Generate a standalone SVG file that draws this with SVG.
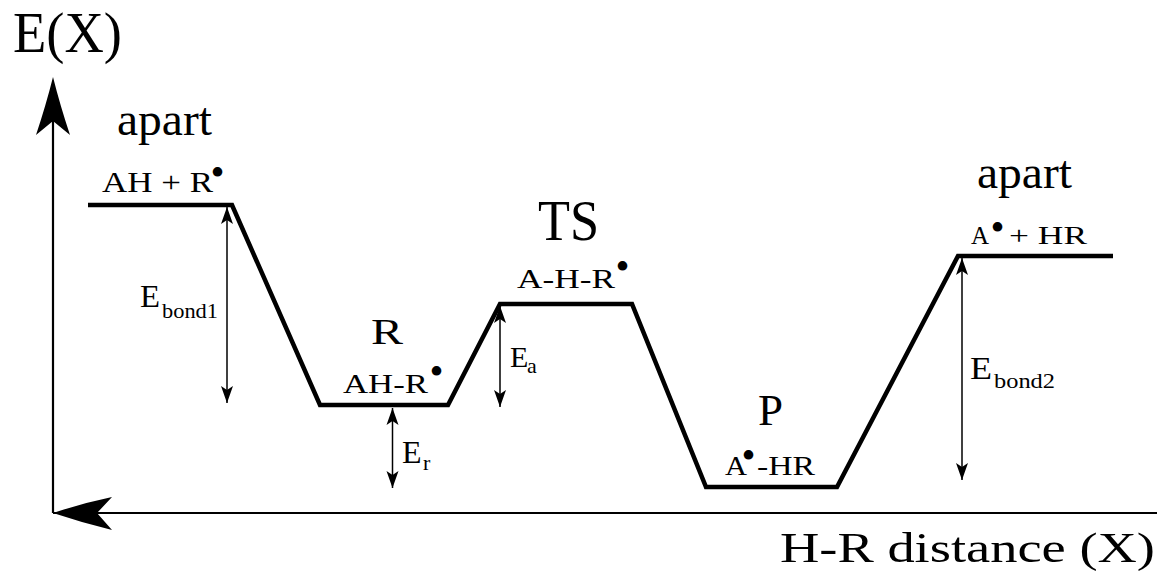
<svg xmlns="http://www.w3.org/2000/svg" width="1157" height="581" viewBox="0 0 1157 581">
<style>
text{font-family:"Liberation Serif","Times New Roman","DejaVu Serif",serif;fill:#000}
.axis{stroke:#000;stroke-width:2.2;fill:none}
.curve{stroke:#000;stroke-width:4.5;fill:none;stroke-linejoin:miter}
.dim{stroke:#000;stroke-width:1.5;fill:none;marker-start:url(#ah);marker-end:url(#ah)}
.head{fill:#000;stroke:none}
.dot{font-size:40px}
</style>
<defs>
<marker id="ah" markerUnits="userSpaceOnUse" viewBox="-18 -7 19 14" refX="0" refY="0" markerWidth="19" markerHeight="14" orient="auto-start-reverse">
<path d="M0,0 L-17,-6 L-13,0 L-17,6 Z" fill="#000"/>
</marker>
</defs>
<g id="axes">
<line class="axis" x1="53" y1="513" x2="53" y2="118"/>
<path class="head" d="M53,77 Q60,105 70,135 L53,121 L36,135 Q46,105 53,77 Z"/>
<line class="axis" x1="53" y1="513" x2="1157" y2="513"/>
<path class="head" d="M53,513 Q83,503 112,497 L97,513 L112,530 Q83,523 53,513 Z"/>
<text x="13" y="52" font-size="56" textLength="109" lengthAdjust="spacingAndGlyphs">E(X)</text>
<text x="780" y="562" font-size="43" textLength="375" lengthAdjust="spacingAndGlyphs">H-R distance (X)</text>
</g>
<g id="curve">
<polyline class="curve" points="88,205 232,205 320,405 448,405 500,304 632,304 706,487 837,487 958,256 1113,256"/>
</g>
<g id="connectors">
<line class="dim" x1="227" y1="207" x2="227" y2="403"/>
<line class="dim" x1="392.5" y1="408" x2="392.5" y2="488"/>
<line class="dim" x1="500" y1="306" x2="500" y2="407"/>
<line class="dim" x1="962" y1="258" x2="962" y2="480"/>
</g>
<g id="node-apart-left">
<text x="117" y="135" font-size="46" textLength="95" lengthAdjust="spacingAndGlyphs">apart</text>
<text x="102" y="192" font-size="29"><tspan textLength="111" lengthAdjust="spacingAndGlyphs">AH + R</tspan><tspan class="dot" x="210.5" y="186">•</tspan></text>
</g>
<g id="label-ebond1">
<text x="140" y="307" font-size="32"><tspan textLength="20" lengthAdjust="spacingAndGlyphs">E</tspan><tspan x="162" y="318" font-size="22" textLength="56" lengthAdjust="spacingAndGlyphs">bond1</tspan></text>
</g>
<g id="node-R">
<text x="371" y="344" font-size="35" textLength="32" lengthAdjust="spacingAndGlyphs">R</text>
<text x="343" y="393" font-size="27"><tspan textLength="85" lengthAdjust="spacingAndGlyphs">AH-R</tspan><tspan class="dot" x="429.5" y="385">•</tspan></text>
</g>
<g id="label-er">
<text x="402" y="463" font-size="32">E<tspan x="423" y="470" font-size="22">r</tspan></text>
</g>
<g id="node-TS">
<text x="538" y="240" font-size="56" textLength="61" lengthAdjust="spacingAndGlyphs">TS</text>
<text x="517" y="288" font-size="27"><tspan textLength="98" lengthAdjust="spacingAndGlyphs">A-H-R</tspan><tspan class="dot" x="615.5" y="280">•</tspan></text>
</g>
<g id="label-ea">
<text x="510" y="367" font-size="30">E<tspan x="527" y="373" font-size="22">a</tspan></text>
</g>
<g id="node-P">
<text x="758" y="425" font-size="45">P</text>
<text x="725" y="475" font-size="27"><tspan textLength="22" lengthAdjust="spacingAndGlyphs">A</tspan><tspan class="dot" x="741.5" y="469">•</tspan><tspan x="757" y="475" textLength="58" lengthAdjust="spacingAndGlyphs">-HR</tspan></text>
</g>
<g id="node-apart-right">
<text x="977" y="188" font-size="46" textLength="95" lengthAdjust="spacingAndGlyphs">apart</text>
<text x="971" y="244" font-size="26"><tspan textLength="18" lengthAdjust="spacingAndGlyphs">A</tspan><tspan class="dot" x="990.5" y="241">•</tspan><tspan x="1009" y="244" textLength="78" lengthAdjust="spacingAndGlyphs">+ HR</tspan></text>
</g>
<g id="label-ebond2">
<text x="970" y="379" font-size="32"><tspan textLength="22" lengthAdjust="spacingAndGlyphs">E</tspan><tspan x="994" y="388" font-size="22" textLength="61" lengthAdjust="spacingAndGlyphs">bond2</tspan></text>
</g>
</svg>
